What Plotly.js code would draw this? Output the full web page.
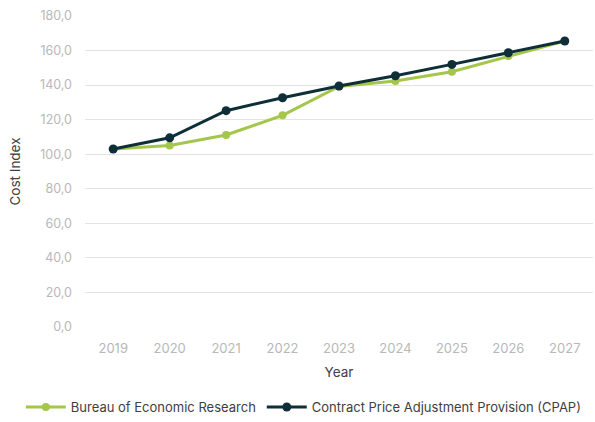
<!DOCTYPE html>
<html><head><meta charset="utf-8">
<script src="https://cdn.plot.ly/plotly-3.0.1.min.js"></script>
<style>html,body{margin:0;padding:0;background:#fff}#c{width:595px;height:422px}</style>
</head><body><div id="c"></div>
<script>
const years = ["2019","2020","2021","2022","2023","2024","2025","2026","2027"];
const berValues = [103.0, 105.1, 111.1, 122.5, 139.2, 142.4, 147.7, 156.8, 165.5];
const cpapValues = [103.0, 109.5, 125.2, 132.7, 139.5, 145.4, 152.0, 158.7, 165.5];
const seriesNames = ["Bureau of Economic Research", "Contract Price Adjustment Provision (CPAP)"];
const yTicks = [0, 20, 40, 60, 80, 100, 120, 140, 160, 180];

const fontFam = "Inter, 'Open Sans', sans-serif";
const traces = [
  {x: years, y: berValues, name: seriesNames[0], type: "scatter", mode: "lines+markers", legend: "legend",
   line: {color: "#a4c64a", width: 3}, marker: {color: "#a4c64a", size: 8}},
  {x: years, y: cpapValues, name: seriesNames[1], type: "scatter", mode: "lines+markers", legend: "legend2",
   line: {color: "#0e2e38", width: 3}, marker: {color: "#0e2e38", size: 9}}
];
const legFont = {family: fontFam, size: 13, color: "#404040"};
const layout = {
  width: 595, height: 422,
  margin: {l: 85, r: 2, t: 16, b: 95, autoexpand: false},
  paper_bgcolor: "#fff", plot_bgcolor: "#fff",
  separators: ",.",
  showlegend: true,
  legend: {orientation: "h", x: 0.035, xanchor: "left", xref: "container", y: 0.0, yanchor: "bottom", yref: "container",
           font: legFont, itemwidth: 40, bgcolor: "rgba(0,0,0,0)"},
  legend2: {orientation: "h", x: 0.44, xanchor: "left", xref: "container", y: 0.0, yanchor: "bottom", yref: "container",
           font: legFont, itemwidth: 40, bgcolor: "rgba(0,0,0,0)"},
  xaxis: {type: "category", range: [-0.5, 8.5], showgrid: false, zeroline: false, showline: false,
          ticks: "", ticklabelstandoff: 12, tickfont: {family: fontFam, size: 13, color: "#b8b8b8"},
          title: {text: "Year", font: {family: fontFam, size: 13.5, color: "#404040"}, standoff: 12}},
  yaxis: {range: [0, 180], tickvals: yTicks, tickformat: ".1f", showgrid: true, gridcolor: "#e3e3e3",
          gridwidth: 1, zeroline: false, showline: false, ticks: "", ticklabelstandoff: 12,
          tickfont: {family: fontFam, size: 12.5, color: "#b8b8b8"},
          title: {text: "Cost Index", font: {family: fontFam, size: 13.5, color: "#404040"}, standoff: 16}}
};
Plotly.newPlot("c", traces, layout, {displayModeBar: false, staticPlot: true});
</script></body></html>
